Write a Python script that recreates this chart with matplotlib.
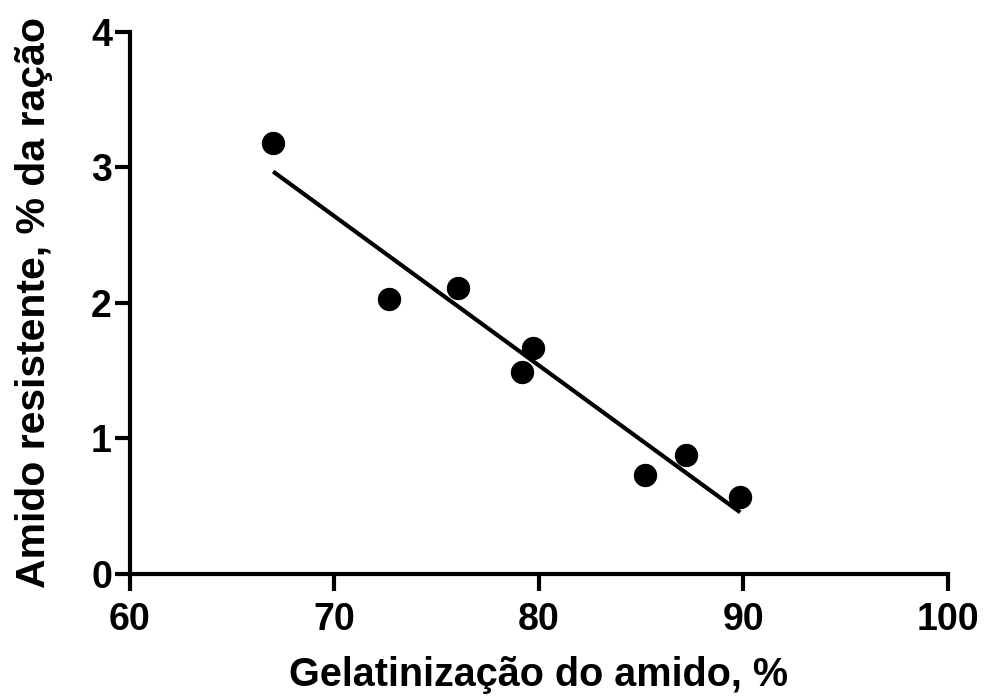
import numpy as np
import matplotlib
matplotlib.use("Agg")
import matplotlib.pyplot as plt

plt.rcParams['font.family'] = ['Liberation Sans', 'DejaVu Sans']
plt.rcParams['font.weight'] = 'bold'

# gelatinizacao (%) x amido resistente (% da racao)
gelatinizacao = [67.0, 72.67, 76.04, 79.72, 79.17, 85.17, 87.2, 89.84]
amido_resistente = [3.18, 2.03, 2.11, 1.67, 1.49, 0.73, 0.88, 0.57]

x_ticks = [60, 70, 80, 90, 100]
y_ticks = [0, 1, 2, 3, 4]

x = np.array(gelatinizacao)
y = np.array(amido_resistente)

# regressao linear
coef = np.polyfit(x, y, 1)
xr = np.array([x.min(), x.max()])
yr = np.polyval(coef, xr)

fig = plt.figure(figsize=(9.84, 6.97), dpi=100)
ax = fig.add_axes([0.1321, 0.1765, 0.8313, 0.7776])

ax.plot(xr, yr, color='black', lw=3, solid_capstyle='butt', zorder=2)
ax.scatter(x, y, s=250, color='black', zorder=3, clip_on=False)

ax.set_xlim(60, 100)
ax.set_ylim(0, 4)
ax.set_xticks(x_ticks)
ax.set_yticks(y_ticks)

for s in ['top', 'right']:
    ax.spines[s].set_visible(False)
for s in ['left', 'bottom']:
    ax.spines[s].set_linewidth(3)

ax.tick_params(axis='x', length=12, width=3, pad=8, labelsize=27)
ax.tick_params(axis='y', length=11, width=3, pad=2, labelsize=27)

ax.set_xlabel('Gelatinização do amido, %', fontsize=28.5, fontweight='bold', labelpad=13)
ax.set_ylabel('Amido resistente, % da ração', fontsize=29.5, fontweight='bold', labelpad=27)

fig.savefig('out.png', dpi=100)
